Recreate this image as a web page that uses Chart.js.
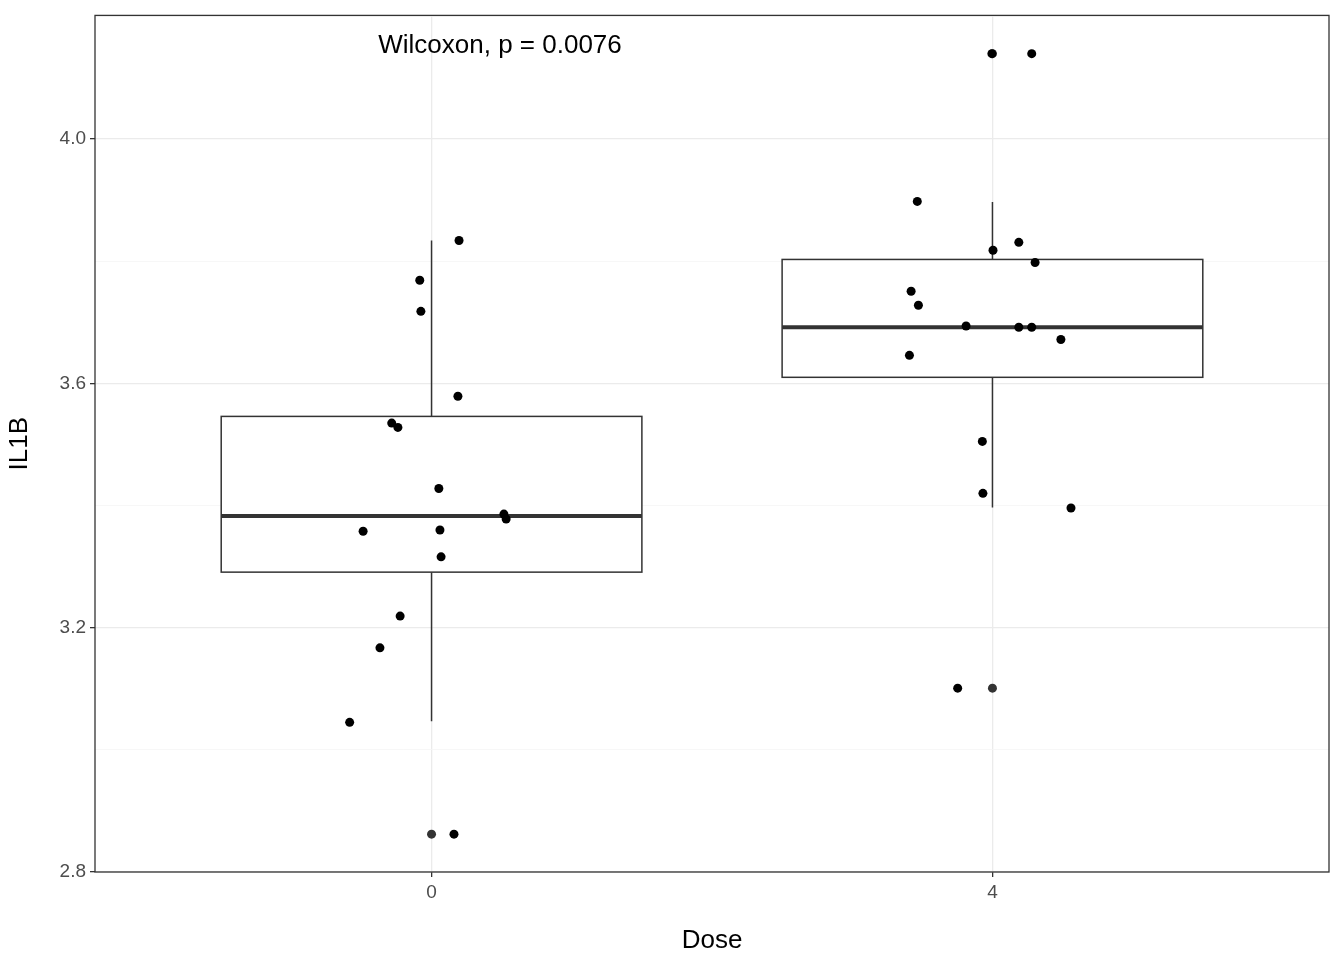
<!DOCTYPE html>
<html>
<head>
<meta charset="utf-8">
<script src="https://cdn.jsdelivr.net/npm/chart.js@4"></script>
<style>
  html, body { margin: 0; padding: 0; background: #fff; }
  #wrap { width: 1344px; height: 960px; }
</style>
</head>
<body>
<div id="wrap"><canvas id="chart"></canvas></div>
<script>
const categories = ["0", "4"];
const boxLow = [3.047, 3.397];
const boxQ1 = [3.291, 3.610];
const boxMedian = [3.383, 3.692];
const boxQ3 = [3.546, 3.803];
const boxHigh = [3.834, 3.897];
const outliers = [[2.862], [4.140, 3.101]];

const pointX = [
  1.049, 0.979, 0.981, 1.047, 0.929, 0.940, 1.013, 1.129, 1.133, 0.878, 1.015, 1.017, 0.944, 0.908, 0.854, 1.040,
  1.999, 2.070, 1.866, 2.047, 2.001, 2.076, 1.855, 1.868, 1.953, 2.047, 2.070, 2.122, 1.852, 1.982, 1.983, 2.140, 1.938
];
const pointY = [
  3.834, 3.769, 3.718, 3.579, 3.535, 3.528, 3.428, 3.386, 3.378, 3.358, 3.360, 3.316, 3.219, 3.167, 3.045, 2.862,
  4.140, 4.140, 3.898, 3.831, 3.818, 3.798, 3.751, 3.728, 3.694, 3.692, 3.692, 3.672, 3.646, 3.505, 3.420, 3.396, 3.101
];
const majorTicks = [2.8, 3.2, 3.6, 4.0];
const annotation = "Wilcoxon, p = 0.0076";

const FONT = "'Liberation Sans', Arial, sans-serif";

const boxPlugin = {
  id: "boxes",
  beforeDatasetsDraw(chart) {
    const { ctx, scales: { x, y } } = chart;
    ctx.save();
    ctx.strokeStyle = "#333333";
    categories.forEach((_, i) => {
      const c = x.getPixelForValue(i + 1);
      const l = x.getPixelForValue(i + 1 - 0.375);
      const r = x.getPixelForValue(i + 1 + 0.375);
      ctx.lineWidth = 1.5;
      ctx.beginPath();
      ctx.moveTo(c, y.getPixelForValue(boxHigh[i]));
      ctx.lineTo(c, y.getPixelForValue(boxQ3[i]));
      ctx.moveTo(c, y.getPixelForValue(boxQ1[i]));
      ctx.lineTo(c, y.getPixelForValue(boxLow[i]));
      ctx.stroke();
      ctx.fillStyle = "#ffffff";
      const t = y.getPixelForValue(boxQ3[i]);
      const b = y.getPixelForValue(boxQ1[i]);
      ctx.fillRect(l, t, r - l, b - t);
      ctx.strokeRect(l, t, r - l, b - t);
      ctx.lineWidth = 4;
      ctx.beginPath();
      const m = y.getPixelForValue(boxMedian[i]);
      ctx.moveTo(l, m);
      ctx.lineTo(r, m);
      ctx.stroke();
      ctx.fillStyle = "#333333";
      outliers[i].forEach((v) => {
        ctx.beginPath();
        ctx.arc(c, y.getPixelForValue(v), 4.5, 0, Math.PI * 2);
        ctx.fill();
      });
    });
    ctx.restore();
  },
  afterDraw(chart) {
    const { ctx, chartArea: a, scales: { x, y } } = chart;
    ctx.save();
    ctx.strokeStyle = "#333333";
    ctx.lineWidth = 1.3;
    ctx.strokeRect(a.left, a.top, a.right - a.left, a.bottom - a.top);
    ctx.fillStyle = "#000";
    ctx.font = "26px " + FONT;
    ctx.textBaseline = "middle";
    ctx.textAlign = "left";
    ctx.fillText(annotation, x.getPixelForValue(0.905), y.getPixelForValue(4.153));
    ctx.restore();
  }
};

new Chart(document.getElementById("chart"), {
  type: "scatter",
  data: {
    datasets: [{
      data: pointX.map((v, i) => ({ x: v, y: pointY[i] })),
      backgroundColor: "#000000",
      borderWidth: 0,
      pointRadius: 4.5
    }]
  },
  options: {
    responsive: true,
    maintainAspectRatio: false,
    animation: false,
    layout: { padding: { top: 15, right: 15, left: 0, bottom: 0 } },
    plugins: { legend: { display: false }, tooltip: { enabled: false } },
    scales: {
      x: {
        type: "linear", min: 0.4, max: 2.6,
        afterBuildTicks(s) { s.ticks = categories.map((_, i) => ({ value: i + 1 })); },
        afterFit(s) { s.height = 88; },
        ticks: {
          callback: (v) => categories[v - 1],
          color: "#4d4d4d", font: { family: FONT, size: 19 }, padding: 4
        },
        grid: { color: "#ebebeb", lineWidth: 1.3, tickColor: "#333333", tickLength: 5 },
        border: { display: false },
        title: { display: true, text: "Dose", color: "#000", font: { family: FONT, size: 26 }, padding: { top: 4 } }
      },
      y: {
        min: 2.8, max: 4.2026,
        afterBuildTicks(s) {
          const t = [];
          for (let k = 0; k <= 7; k++) t.push({ value: +(2.8 + k * 0.2).toFixed(1) });
          s.ticks = t.filter((d) => d.value <= 4.2);
        },
        afterFit(s) { s.width = 95; },
        ticks: {
          callback: (v) => majorTicks.some((m) => Math.abs(m - v) < 1e-6) ? v.toFixed(1) : "",
          color: "#4d4d4d", font: { family: FONT, size: 19 }, padding: 4
        },
        grid: {
          color: (c) => majorTicks.some((m) => Math.abs(m - c.tick.value) < 1e-6) ? "#ebebeb" : "#f5f5f5",
          lineWidth: (c) => majorTicks.some((m) => Math.abs(m - c.tick.value) < 1e-6) ? 1.3 : 0.8,
          tickColor: (c) => majorTicks.some((m) => Math.abs(m - c.tick.value) < 1e-6) ? "#333333" : "rgba(0,0,0,0)",
          tickLength: 5
        },
        border: { display: false },
        title: { display: true, text: "IL1B", color: "#000", font: { family: FONT, size: 26 }, padding: { bottom: 8 } }
      }
    }
  },
  plugins: [boxPlugin]
});
</script>
</body>
</html>
